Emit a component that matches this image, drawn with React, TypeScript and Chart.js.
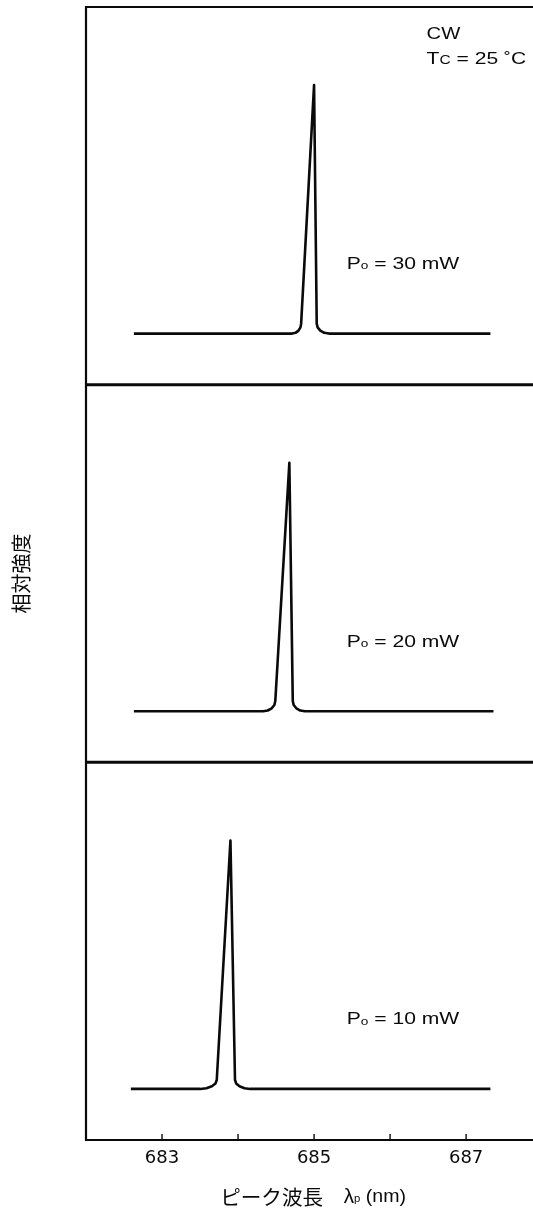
import React, { useEffect, useRef } from "react";
import { Chart, registerables } from "chart.js";

Chart.register(...registerables);

// ---- axis ----
const X_MIN = 682;
const X_MAX = 687.88;
const xTickValues = [683, 684, 685, 686, 687];
const xTickLabels = ["683", "", "685", "", "687"];
const Y_MIN = -0.2056;
const Y_MAX = 1.3145;

// ---- spectra (wavelength nm, relative intensity) ----
const wl30 = [682.63, 684.71, 684.756, 684.795, 684.821, 684.83, 685.0, 685.035, 685.047, 685.082, 685.134, 685.195, 687.32];
const int30 = [0, 0, 0.003, 0.012, 0.025, 0.04, 1, 0.04, 0.025, 0.012, 0.003, 0, 0];

const wl20 = [682.63, 684.33, 684.39, 684.443, 684.478, 684.49, 684.675, 684.72, 684.732, 684.767, 684.819, 684.88, 687.36];
const int20 = [0, 0, 0.003, 0.012, 0.025, 0.041, 1, 0.041, 0.025, 0.012, 0.003, 0, 0];

const wl10 = [682.59, 683.5, 683.584, 683.656, 683.703, 683.72, 683.9, 683.96, 683.975, 684.019, 684.085, 684.16, 687.32];
const int10 = [0, 0, 0.003, 0.011, 0.022, 0.036, 1, 0.036, 0.022, 0.011, 0.003, 0, 0];

const powers = ["30", "20", "10"];
const panelIds = ["yTop", "yMid", "yBot"];

// annotation anchors (data coordinates)
const LABEL_X = 685.43;
const LABEL_Y = 0.26;
const NOTE_X = 686.48;
const CW_Y = 1.184;
const TC_Y = 1.085;

const LATIN = "'Liberation Sans', Arial, sans-serif";
const CJK = "'Noto Sans CJK JP', sans-serif";
const INK = "#0a0a0a";

type Run = { t: string; size: number; dy?: number; font?: string };

function runsWidth(ctx: CanvasRenderingContext2D, runs: Run[]) {
  let w = 0;
  for (const r of runs) {
    ctx.font = `${r.size}px ${r.font ?? LATIN}`;
    w += ctx.measureText(r.t).width;
  }
  return w;
}

function drawRuns(
  ctx: CanvasRenderingContext2D,
  x: number,
  y: number,
  runs: Run[],
  sx: number,
  align: "left" | "center",
  baseline: CanvasTextBaseline = "alphabetic"
) {
  ctx.save();
  ctx.translate(x, y);
  ctx.scale(sx, 1);
  ctx.textAlign = "left";
  ctx.textBaseline = baseline;
  ctx.fillStyle = INK;
  const w = runsWidth(ctx, runs);
  let cx = align === "center" ? -w / 2 : 0;
  for (const r of runs) {
    ctx.font = `${r.size}px ${r.font ?? LATIN}`;
    ctx.fillText(r.t, cx, r.dy ?? 0);
    cx += ctx.measureText(r.t).width;
  }
  ctx.restore();
}

const framePlugin = {
  id: "frame",
  afterDraw(chart: any) {
    const ctx: CanvasRenderingContext2D = chart.ctx;
    const ca = chart.chartArea;
    const xs = chart.scales.x;
    ctx.save();
    ctx.strokeStyle = INK;
    ctx.lineCap = "butt";
    // left frame
    ctx.lineWidth = 2.2;
    ctx.beginPath();
    ctx.moveTo(ca.left, ca.top - 1);
    ctx.lineTo(ca.left, ca.bottom + 1);
    ctx.stroke();
    // panel top lines
    panelIds.forEach((id, i) => {
      const s = chart.scales[id];
      ctx.lineWidth = i === 0 ? 2.2 : 3;
      ctx.beginPath();
      ctx.moveTo(ca.left, s.top);
      ctx.lineTo(ca.right, s.top);
      ctx.stroke();
    });
    // inward tick marks
    ctx.lineWidth = 1.4;
    for (const v of xTickValues) {
      const px = xs.getPixelForValue(v);
      ctx.beginPath();
      ctx.moveTo(px, ca.bottom);
      ctx.lineTo(px, ca.bottom - 6);
      ctx.stroke();
    }
    ctx.restore();

    // power labels
    panelIds.forEach((id, i) => {
      const s = chart.scales[id];
      drawRuns(
        ctx,
        xs.getPixelForValue(LABEL_X),
        s.getPixelForValue(LABEL_Y),
        [
          { t: "P", size: 17 },
          { t: "o", size: 11, dy: 0.5 },
          { t: ` = ${powers[i]} mW`, size: 17 },
        ],
        1.24,
        "left"
      );
    });

    // conditions
    const top = chart.scales.yTop;
    const nx = xs.getPixelForValue(NOTE_X);
    drawRuns(ctx, nx, top.getPixelForValue(CW_Y), [{ t: "CW", size: 17 }], 1.19, "left");
    drawRuns(
      ctx,
      nx,
      top.getPixelForValue(TC_Y),
      [
        { t: "T", size: 17 },
        { t: "C", size: 12.5 },
        { t: " = 25 ", size: 17 },
        { t: "˚", size: 17 },
        { t: "C", size: 17 },
      ],
      1.24,
      "left"
    );

    // y title
    ctx.save();
    ctx.translate(21, (ca.top + ca.bottom) / 2);
    ctx.rotate(-Math.PI / 2);
    drawRuns(ctx, 0, 0, [{ t: "相対強度", size: 20, font: CJK }], 1, "center", "middle");
    ctx.restore();

    // x title
    const cxp = xs.getPixelForValue(685);
    const runs: Run[] = [
      { t: "ピーク波長　", size: 20, font: CJK },
      { t: "λ", size: 20 },
      { t: "p", size: 11, dy: 1.5 },
      { t: " (nm)", size: 19 },
    ];
    drawRuns(ctx, cxp - 1, 1197, runs, 1.03, "center", "middle");
  },
};

export default function App() {
  const ref = useRef<HTMLCanvasElement | null>(null);

  useEffect(() => {
    document.body.style.margin = "0";
    const canvas = ref.current;
    if (!canvas) return;
    const series = [
      { wl: wl30, v: int30 },
      { wl: wl20, v: int20 },
      { wl: wl10, v: int10 },
    ];
    const yScale = () => ({
      type: "linear" as const,
      position: "left" as const,
      stack: "panels",
      stackWeight: 1,
      min: Y_MIN,
      max: Y_MAX,
      ticks: { display: false },
      grid: { display: false, drawTicks: false },
      border: { display: false },
      afterFit: (s: any) => {
        s.width = 0;
      },
    });
    const chart = new Chart(canvas, {
      type: "line",
      data: {
        datasets: series.map((s, i) => ({
          label: `Po = ${powers[i]} mW`,
          data: s.wl.map((x, k) => ({ x, y: s.v[k] })),
          yAxisID: panelIds[i],
          borderColor: INK,
          borderWidth: 2.6,
          pointRadius: 0,
          tension: 0,
          fill: false,
          borderJoinStyle: "round" as const,
        })),
      },
      options: {
        responsive: false,
        animation: false,
        devicePixelRatio: 1,
        layout: { padding: { left: 86, top: 7, right: 0, bottom: 0 } },
        plugins: { legend: { display: false }, tooltip: { enabled: false } },
        scales: {
          x: {
            type: "linear",
            position: "bottom",
            min: X_MIN,
            max: X_MAX,
            afterBuildTicks: (s: any) => {
              s.ticks = xTickValues.map((value) => ({ value }));
            },
            afterFit: (s: any) => {
              s.height = 76;
            },
            grid: { display: false, drawTicks: false },
            border: { display: true, color: INK, width: 2 },
            ticks: {
              autoSkip: false,
              maxRotation: 0,
              padding: 8,
              color: INK,
              font: { family: "'DejaVu Sans', sans-serif", size: 18 },
              callback: (v: any) => {
                const i = xTickValues.indexOf(Number(v));
                return i >= 0 ? xTickLabels[i] : "";
              },
            },
          },
          // stacked panels: first defined is placed at the bottom
          yBot: yScale(),
          yMid: yScale(),
          yTop: yScale(),
        } as any,
      },
      plugins: [framePlugin],
    });
    return () => chart.destroy();
  }, []);

  return (
    <div style={{ width: 533, height: 1216, background: "#fff" }}>
      <canvas ref={ref} width={533} height={1216} style={{ display: "block", width: 533, height: 1216 }} />
    </div>
  );
}
